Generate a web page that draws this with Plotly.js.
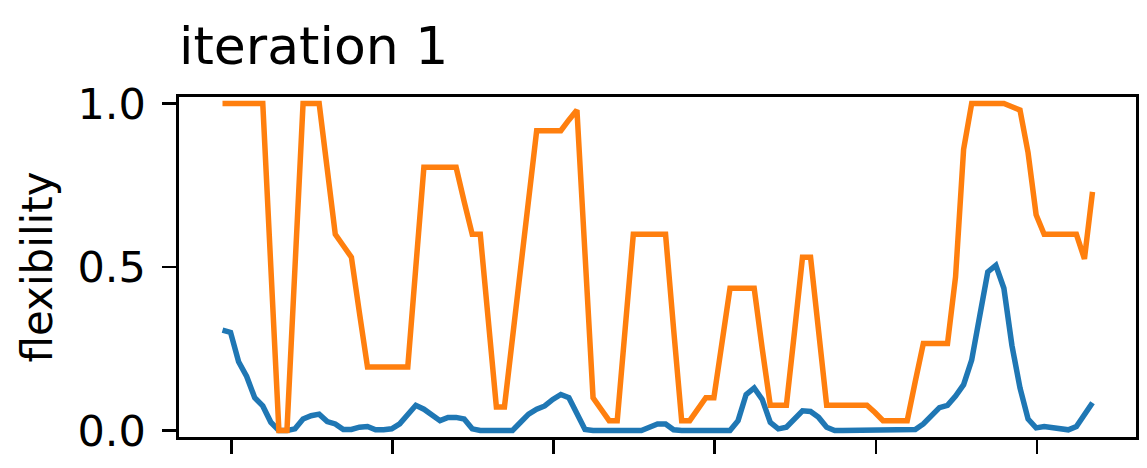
<!DOCTYPE html>
<html>
<head>
<meta charset="utf-8">
<script src="https://cdn.plot.ly/plotly-3.0.1.min.js"></script>
<style>html,body{margin:0;padding:0;background:#fff;}#chart{width:1147px;height:468px;}</style>
</head>
<body>
<div id="chart"></div>
<script>
// Series values (one point per step)
var seriesBlue = [
  0.307, 0.30, 0.21, 0.165, 0.10, 0.075, 0.025, 0.0, 0.0, 0.005,
  0.035, 0.045, 0.05, 0.027, 0.02, 0.003, 0.003, 0.01, 0.012, 0.002,
  0.002, 0.005, 0.02, 0.05, 0.077, 0.065, 0.045, 0.03, 0.04, 0.04,
  0.035, 0.005, 0.0, 0.0, 0.0, 0.0, 0.0, 0.025, 0.05, 0.065,
  0.075, 0.095, 0.11, 0.10, 0.05, 0.003, 0.0, 0.0, 0.0, 0.0,
  0.0, 0.0, 0.0, 0.01, 0.02, 0.02, 0.002, 0.0, 0.0, 0.0,
  0.0, 0.0, 0.0, 0.0, 0.03, 0.11, 0.13, 0.095, 0.025, 0.005,
  0.01, 0.037, 0.06, 0.058, 0.04, 0.01, 0.0, 0.0, 0.0, 0.0,
  0.0, 0.0, 0.0, 0.0, 0.0, 0.0, 0.003, 0.02, 0.045, 0.07,
  0.077, 0.105, 0.14, 0.215, 0.35, 0.485, 0.505, 0.435, 0.26, 0.13,
  0.035, 0.008, 0.012, 0.008, 0.003, 0.002, 0.012, 0.045, 0.085
];
var seriesOrange = [
  1.0, 1.0, 1.0, 1.0, 1.0, 1.0, 0.5, 0.0, 0.0, 0.5,
  1.0, 1.0, 1.0, 0.8, 0.60, 0.565, 0.53, 0.36, 0.194, 0.194,
  0.194, 0.194, 0.194, 0.194, 0.5, 0.805, 0.805, 0.805, 0.805, 0.805,
  0.70, 0.60, 0.60, 0.33, 0.072, 0.072, 0.28, 0.49, 0.70, 0.917,
  0.917, 0.917, 0.917, 0.95, 0.98, 0.54, 0.10, 0.065, 0.03, 0.03,
  0.31, 0.60, 0.60, 0.60, 0.60, 0.60, 0.31, 0.03, 0.03, 0.065,
  0.10, 0.10, 0.27, 0.435, 0.435, 0.435, 0.435, 0.25, 0.077, 0.077,
  0.077, 0.30, 0.53, 0.53, 0.30, 0.077, 0.077, 0.077, 0.077, 0.077,
  0.077, 0.055, 0.03, 0.03, 0.03, 0.03, 0.15, 0.266, 0.266, 0.266,
  0.266, 0.47, 0.86, 1.0, 1.0, 1.0, 1.0, 1.0, 0.99, 0.98,
  0.85, 0.66, 0.60, 0.60, 0.60, 0.60, 0.60, 0.525, 0.73
];
var steps = seriesBlue.map(function (_, i) { return i; });
var yTickValues = [0, 0.5, 1.0];
var yTickLabels = ["0.0", "0.5", "1.0"];
var titleText = "iteration 1";
var yTitleText = "flexibility";

var FONT = "DejaVu Sans, Liberation Sans, sans-serif";

var traces = [
  {x: steps, y: seriesBlue, type: "scatter", mode: "lines",
   line: {color: "#1f77b4", width: 5.5}, hoverinfo: "skip"},
  {x: steps, y: seriesOrange, type: "scatter", mode: "lines",
   line: {color: "#ff7f0e", width: 5.5}, hoverinfo: "skip"}
];

var layout = {
  width: 1147, height: 468,
  margin: {l: 179, r: 11, t: 97, b: 31, pad: 0},
  paper_bgcolor: "#ffffff", plot_bgcolor: "#ffffff",
  showlegend: false,
  font: {family: FONT, color: "#000000"},
  title: {
    text: titleText,
    font: {family: FONT, size: 52, color: "#000000"},
    xref: "paper", x: 0, xanchor: "left",
    yref: "container", y: 0.902, yanchor: "middle"
  },
  xaxis: {
    range: [-5.4, 113.4],
    showgrid: false, zeroline: false,
    showline: true, linecolor: "#000000", linewidth: 2.6, mirror: true,
    ticks: "outside", ticklen: 14, tickwidth: 2.6, tickcolor: "#000000",
    tick0: 1.1, dtick: 20, tickmode: "linear",
    showticklabels: false
  },
  yaxis: {
    range: [-0.02, 1.02],
    showgrid: false, zeroline: false,
    showline: true, linecolor: "#000000", linewidth: 2.6, mirror: true,
    ticks: "outside", ticklen: 14, tickwidth: 2.6, tickcolor: "#000000",
    tickmode: "array", tickvals: yTickValues, ticktext: yTickLabels,
    ticklabelstandoff: 8,
    tickfont: {family: FONT, size: 43, color: "#000000"},
    title: {text: yTitleText, font: {family: FONT, size: 42, color: "#000000"}, standoff: 12}
  }
};

Plotly.newPlot("chart", traces, layout, {staticPlot: true, displayModeBar: false});
</script>
</body>
</html>
